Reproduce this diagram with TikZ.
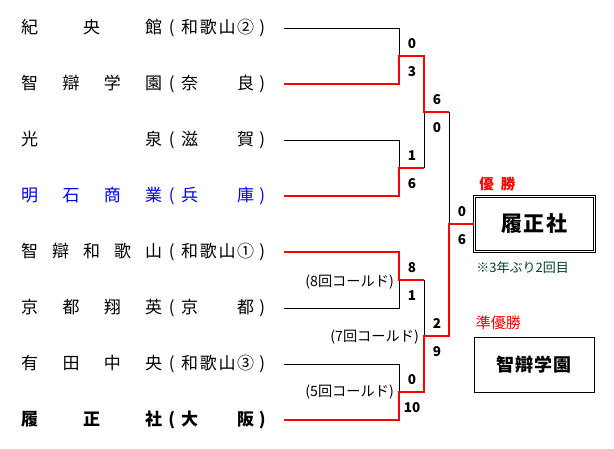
\documentclass[tikz,border=0pt]{standalone}
\usepackage{fontspec}
\setmainfont{Noto Sans CJK JP}
\usetikzlibrary{calc}
\definecolor{winred}{RGB}{255,0,0}
\definecolor{schoolblue}{RGB}{0,0,255}
\definecolor{notegreen}{RGB}{0,64,32}
\newcommand{\teamrow}[2]{\makebox[141pt][s]{#1}\makebox[19pt]{(}\makebox[73pt][s]{#2}\makebox[16pt]{)}}

\begin{document}
\begin{tikzpicture}[x=1pt, y=-1pt,
  team/.style={anchor=west, inner sep=0pt, font=\fontsize{17}{17}\selectfont},
  score/.style={inner sep=0pt, font=\fontsize{13.5}{14}\selectfont\bfseries},
  called/.style={anchor=east, inner sep=0pt, font=\fontsize{14.2}{15}\selectfont},
  tag/.style={anchor=west, inner sep=0pt, text=winred, font=\fontsize{15}{15}\selectfont},
  lose/.style={line width=0.8pt, color=black},
  win/.style={line width=2pt, color=winred},
  result/.style={draw=black, line width=0.8pt, minimum width=120pt, minimum height=55pt,
                 inner sep=0pt, fill=white}
]
\useasboundingbox (0,0) rectangle (614,449);
\node[team] (t1) at (21,28) {\teamrow{紀\hfill 央\hfill 館}{和\hfill 歌\hfill 山\hfill ②}};
\node[team] (t2) at (21,84) {\teamrow{智\hfill 辯\hfill 学\hfill 園}{奈\hfill 良}};
\node[team] (t3) at (21,140) {\teamrow{光\hfill 泉}{滋\hfill 賀}};
\node[team, text=schoolblue] (t4) at (21,196) {\teamrow{明\hfill 石\hfill 商\hfill 業}{兵\hfill 庫}};
\node[team] (t5) at (21,252) {\teamrow{智\hfill 辯\hfill 和\hfill 歌\hfill 山}{和\hfill 歌\hfill 山\hfill ①}};
\node[team] (t6) at (21,308) {\teamrow{京\hfill 都\hfill 翔\hfill 英}{京\hfill 都}};
\node[team] (t7) at (21,364) {\teamrow{有\hfill 田\hfill 中\hfill 央}{和\hfill 歌\hfill 山\hfill ③}};
\node[team, font=\fontsize{17}{17}\selectfont\bfseries] (t8) at (21,420) {\teamrow{履\hfill 正\hfill 社}{大\hfill 阪}};

\coordinate (r1) at (399,56);
\coordinate (r2) at (399,168);
\coordinate (r3) at (399,280);
\coordinate (r4) at (399,392);
\coordinate (s1) at (424,112);
\coordinate (s2) at (424,336);
\coordinate (f) at (449,224);

\node[result, double, double distance=1.2pt, line width=0.7pt] (champ) at (534.5,224)
  {\fontsize{21}{21}\selectfont\bfseries\makebox[66pt][s]{履\hfill 正\hfill 社}};
\node[result] (rup) at (534,364.5)
  {\fontsize{18}{18}\selectfont\bfseries\makebox[76pt][s]{智\hfill 辯\hfill 学\hfill 園}};
\node[tag, font=\fontsize{14.5}{15}\selectfont\bfseries] (wintag) at ($(champ.north west)+(5,-12.5)$)
  {\makebox[36pt][s]{優\hfill 勝}};
\node[tag] (ruptag) at ($(rup.north west)+(2,-14)$) {準優勝};
\node[anchor=west, inner sep=0pt, text=notegreen, font=\fontsize{13}{13}\selectfont]
  (note) at ($(champ.south west)+(2,15.5)$) {※3年ぶり2回目};

\draw[lose] ([xshift=14pt]t1.east) -| (r1);
\draw[lose] ([xshift=14pt]t3.east) -| (r2);
\draw[lose] ([xshift=14pt]t6.east) -| (r3);
\draw[lose] ([xshift=14pt]t7.east) -| (r4);
\draw[lose] (r2 -| s1) -- (s1);
\draw[lose] (r3 -| s2) -- (s2);
\draw[lose] (s1 -| f) -- (f);
\draw[win] ([xshift=14pt]t2.east) -| (r1) -| (s1) -- (s1 -| f);
\draw[win] ([xshift=14pt]t4.east) -| (r2) -- (r2 -| s1);
\draw[win] ([xshift=14pt]t5.east) -| (r3) -- (r3 -| s2);
\draw[win] ([xshift=14pt]t8.east) -| (r4) -| (s2) -| (f) -- (champ.west);

\node[score] (a1) at ($(r1)+(13,-12)$) {0};
\node[score] (b1) at ($(r1)+(13,16)$) {3};
\node[score] (a2) at ($(r2)+(13,-12)$) {1};
\node[score] (b2) at ($(r2)+(13,16)$) {6};
\node[score] (a3) at ($(r3)+(13,-12)$) {8};
\node[score] (b3) at ($(r3)+(13,16)$) {1};
\node[score] (a4) at ($(r4)+(13,-12)$) {0};
\node[score] (b4) at ($(r4)+(13,16)$) {10};
\node[score] (a5) at ($(s1)+(13,-12)$) {6};
\node[score] (b5) at ($(s1)+(13,16)$) {0};
\node[score] (a6) at ($(s2)+(13,-12)$) {2};
\node[score] (b6) at ($(s2)+(13,16)$) {9};
\node[score] (a7) at ($(f)+(13,-12)$) {0};
\node[score] (b7) at ($(f)+(13,16)$) {6};

\node[called] (c1) at ($(r3)+(-5,2)$) {(8回コールド)};
\node[called] (c2) at ($(s2)+(-5,1)$) {(7回コールド)};
\node[called] (c3) at ($(r4)+(-5,0)$) {(5回コールド)};
\end{tikzpicture}
\end{document}
